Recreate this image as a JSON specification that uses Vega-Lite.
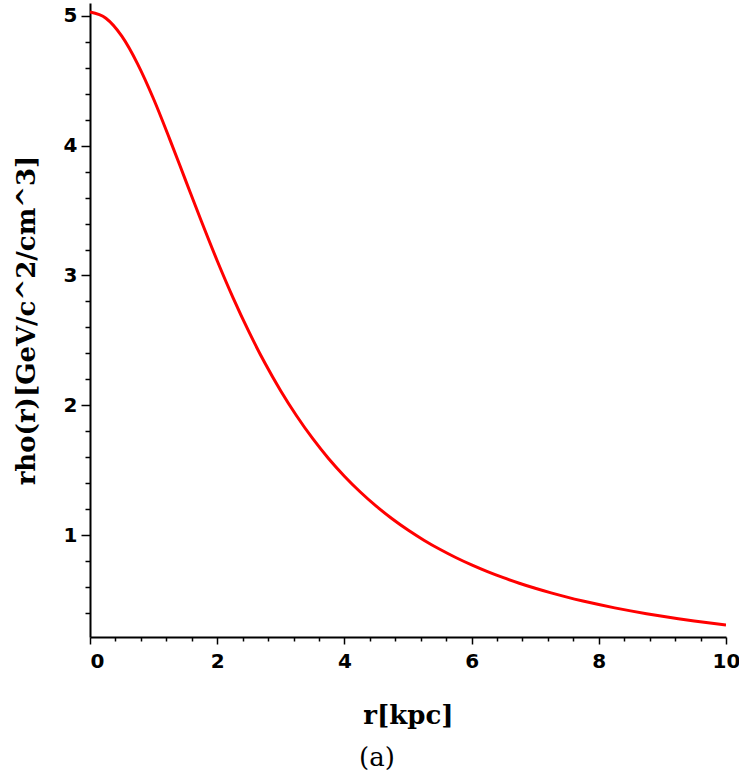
{
  "$schema": "https://vega.github.io/schema/vega-lite/v6.json",
  "width": 636,
  "height": 634,
  "autosize": "none",
  "padding": {"left": 90, "top": 3, "right": 13, "bottom": 147},
  "background": "white",
  "config": {"view": {"stroke": null}},
  "title": {"text": "(a)", "orient": "bottom", "font": "DejaVu Serif", "fontSize": 26, "fontWeight": "normal", "color": "black", "offset": 17, "dx": -31},
  "data": {"values": [
    {"r": 0, "rho": 5.03},
    {"r": 0.25, "rho": 4.982},
    {"r": 0.5, "rho": 4.844},
    {"r": 0.75, "rho": 4.629},
    {"r": 1.0, "rho": 4.36},
    {"r": 1.25, "rho": 4.055},
    {"r": 1.5, "rho": 3.737},
    {"r": 1.75, "rho": 3.42},
    {"r": 2.0, "rho": 3.114},
    {"r": 2.25, "rho": 2.828},
    {"r": 2.5, "rho": 2.565},
    {"r": 2.75, "rho": 2.325},
    {"r": 3.0, "rho": 2.11},
    {"r": 3.25, "rho": 1.917},
    {"r": 3.5, "rho": 1.744},
    {"r": 3.75, "rho": 1.59},
    {"r": 4.0, "rho": 1.4535},
    {"r": 4.25, "rho": 1.3315},
    {"r": 4.5, "rho": 1.2226},
    {"r": 4.75, "rho": 1.1253},
    {"r": 5.0, "rho": 1.0383},
    {"r": 5.25, "rho": 0.9602},
    {"r": 5.5, "rho": 0.8899},
    {"r": 5.75, "rho": 0.8267},
    {"r": 6.0, "rho": 0.7695},
    {"r": 6.25, "rho": 0.7178},
    {"r": 6.5, "rho": 0.6709},
    {"r": 6.75, "rho": 0.6282},
    {"r": 7.0, "rho": 0.5893},
    {"r": 7.25, "rho": 0.5538},
    {"r": 7.5, "rho": 0.5212},
    {"r": 7.75, "rho": 0.4914},
    {"r": 8.0, "rho": 0.4639},
    {"r": 8.25, "rho": 0.4386},
    {"r": 8.5, "rho": 0.4153},
    {"r": 8.75, "rho": 0.3938},
    {"r": 9.0, "rho": 0.3738},
    {"r": 9.25, "rho": 0.3553},
    {"r": 9.5, "rho": 0.3381},
    {"r": 9.75, "rho": 0.322},
    {"r": 10.0, "rho": 0.3071}
  ]},
  "mark": {"type": "line", "color": "#ff0000", "strokeWidth": 3, "interpolate": "monotone", "clip": true},
  "encoding": {
    "x": {
      "field": "r", "type": "quantitative",
      "scale": {"domain": [0, 10], "nice": false, "zero": false},
      "axis": {
        "values": [0, 0.4, 0.8, 1.2, 1.6, 2, 2.4, 2.8, 3.2, 3.6, 4, 4.4, 4.8, 5.2, 5.6, 6, 6.4, 6.8, 7.2, 7.6, 8, 8.4, 8.8, 9.2, 9.6, 10],
        "labelExpr": "datum.value % 2 === 0 ? format(datum.value, 'd') : ''",
        "tickSize": {"condition": {"test": "datum.value % 2 === 0", "value": 7}, "value": 4},
        "labelAlign": {"condition": {"test": "datum.value === 0", "value": "left"}, "value": "center"},
        "labelFlush": false,
        "labelOverlap": false,
        "labelBound": false,
        "labelFont": "DejaVu Sans", "labelFontWeight": "bold", "labelFontSize": 20, "labelColor": "black",
        "labelPadding": 7,
        "domainColor": "black", "domainWidth": 2,
        "tickColor": "black", "tickWidth": 1.5,
        "grid": false,
        "title": "r[kpc]",
        "titleFont": "DejaVu Serif", "titleFontSize": 26, "titleFontWeight": "bold", "titleColor": "black",
        "titlePadding": 31
      }
    },
    "y": {
      "field": "rho", "type": "quantitative",
      "scale": {"domain": [0.214, 5.1], "nice": false, "zero": false},
      "axis": {
        "values": [0.4, 0.6, 0.8, 1, 1.2, 1.4, 1.6, 1.8, 2, 2.2, 2.4, 2.6, 2.8, 3, 3.2, 3.4, 3.6, 3.8, 4, 4.2, 4.4, 4.6, 4.8, 5],
        "labelExpr": "datum.value % 1 === 0 ? format(datum.value, 'd') : ''",
        "tickSize": {"condition": {"test": "datum.value % 1 === 0", "value": 9}, "value": 5},
        "labelFlush": false,
        "labelOverlap": false,
        "labelFont": "DejaVu Sans", "labelFontWeight": "bold", "labelFontSize": 20, "labelColor": "black",
        "labelPadding": 4,
        "domainColor": "black", "domainWidth": 2,
        "tickColor": "black", "tickWidth": 1.5,
        "grid": false,
        "title": "rho(r)[GeV/c^2/cm^3]",
        "titleFont": "DejaVu Serif", "titleFontSize": 26, "titleFontWeight": "bold", "titleColor": "black",
        "titlePadding": 24
      }
    }
  }
}
